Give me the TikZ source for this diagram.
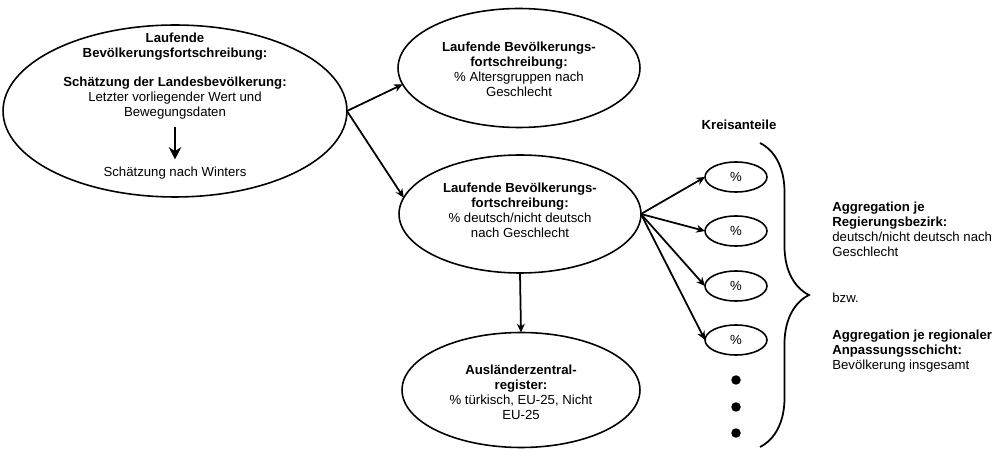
\documentclass[tikz,border=0pt]{standalone}
\usepackage{fontspec}
\setmainfont{Liberation Sans}
\usetikzlibrary{arrows.meta,decorations.pathreplacing,shapes.geometric}
\begin{document}
\begin{tikzpicture}[x=0.02cm, y=-0.02cm, >={Stealth[length=5pt,width=4.5pt]}, font=\fontsize{7.5}{8.6}\selectfont]
      \tikzset{oval/.style={draw, ellipse, line width=0.9pt, inner sep=0pt, outer sep=0pt},
        txt/.style={align=center, inner sep=0pt},
        arr/.style={->, line width=1pt},
        dot/.style={circle, fill, inner sep=0pt, minimum size=0.19cm}}
      \useasboundingbox (0,0) rectangle (995,449);
      \node[oval, minimum width=6.88cm, minimum height=3.44cm] (lfs) at (175,111) {};
      \node[txt] (lfstitle) at (175,47) {\textbf{Laufende}\\\textbf{Bevölkerungsfortschreibung:}};
      \node[txt] (est) at (175,98) {\textbf{Schätzung der Landesbevölkerung:}\\Letzter vorliegender Wert und\\Bewegungsdaten};
      \node[txt] (winters) at (175,173) {Schätzung nach Winters};
      \node[oval, minimum width=4.84cm, minimum height=2.38cm] (alt) at (519,68) {};
      \node[txt] at (519,69) {\textbf{Laufende Bevölkerungs-}\\\textbf{fortschreibung:}\\\% Altersgruppen nach\\Geschlecht};
      \node[oval, minimum width=4.84cm, minimum height=2.36cm] (nat) at (520,214) {};
      \node[txt] at (520,210) {\textbf{Laufende Bevölkerungs-}\\\textbf{fortschreibung:}\\\% deutsch/nicht deutsch\\nach Geschlecht};
      \node[oval, minimum width=4.76cm, minimum height=2.3cm] (azr) at (521,390) {};
      \node[txt] at (521,392) {\textbf{Ausländerzentral-}\\\textbf{register:}\\\% türkisch, EU-25, Nicht\\EU-25};
      \node[txt] (kreis) at (739,125) {\textbf{Kreisanteile}};
      \node[oval, minimum width=1.24cm, minimum height=0.6cm] (k1) at (736,177) {\%};
      \node[oval, minimum width=1.24cm, minimum height=0.6cm] (k2) at (736,231) {\%};
      \node[oval, minimum width=1.24cm, minimum height=0.6cm] (k3) at (736,286) {\%};
      \node[oval, minimum width=1.24cm, minimum height=0.6cm] (k4) at (736,340) {\%};
      \node[dot] (d1) at (736,380) {};
      \node[dot] (d2) at (736,407) {};
      \node[dot] (d3) at (736,433) {};
      \coordinate (btop) at (760,143);
      \coordinate (bbot) at (760,447);
      \node[txt, align=left, anchor=west] (agg1) at (832,229) {\textbf{Aggregation je}\\\textbf{Regierungsbezirk:}\\deutsch/nicht deutsch nach\\Geschlecht};
      \node[txt, align=left, anchor=west] (bzw) at (832,298) {bzw.};
      \node[txt, align=left, anchor=west] (agg2) at (832,351) {\textbf{Aggregation je regionaler}\\\textbf{Anpassungsschicht:}\\Bevölkerung insgesamt};
      \draw[arr, line width=1.5pt, -{Stealth[length=7pt,width=7pt]}, shorten <=4pt, shorten >=4pt] (est.south) -- (winters.north);
      \draw[arr] (lfs.east) -- (alt.188);
      \draw[arr] (lfs.east) -- (nat.172);
      \draw[arr] (nat.south) -- (azr.north);
      \draw[arr] (nat.east) -- (k1.west);
      \draw[arr] (nat.east) -- (k2.west);
      \draw[arr] (nat.east) -- (k3.west);
      \draw[arr] (nat.east) -- (k4.west);
      \draw[line width=1pt, decorate, decoration={brace, amplitude=0.98cm}] (btop) -- (bbot);
\end{tikzpicture}
\end{document}
